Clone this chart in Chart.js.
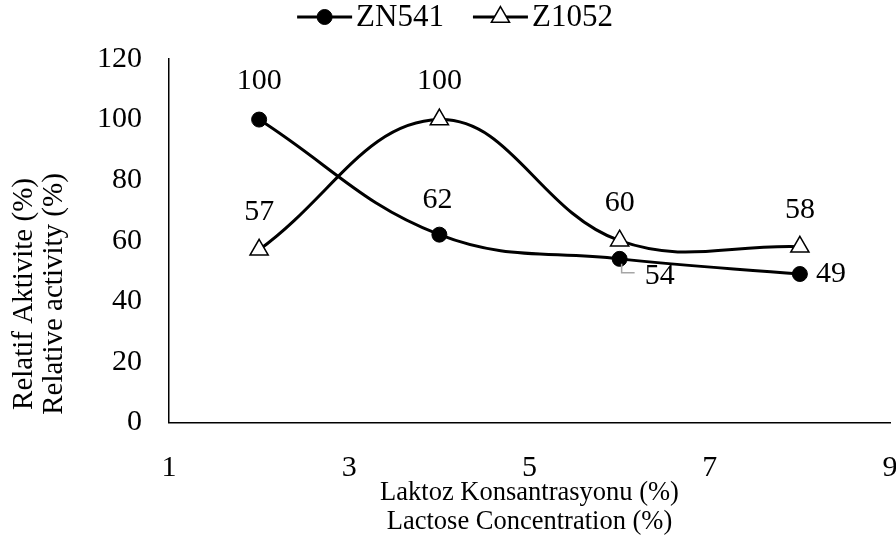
<!DOCTYPE html>
<html>
<head>
<meta charset="utf-8">
<script src="https://cdn.jsdelivr.net/npm/chart.js@4/dist/chart.umd.min.js"></script>
<style>
  html, body { margin: 0; padding: 0; background: #fff; overflow: hidden; }
  #wrap { width: 896px; height: 538px; position: relative; }
</style>
</head>
<body>
<div id="wrap"><canvas id="c" width="896" height="538"></canvas></div>
<script>
// Lactose concentration (%) and relative enzyme activity (%) for two strains
const concentrations = [2, 4, 6, 8];
const zn541 = [100, 62, 54, 49];
const z1052 = [57, 100, 60, 58];
const seriesNames = ['ZN541', 'Z1052'];
const xTickValues = [1, 3, 5, 7, 9];
const yTickValues = [0, 20, 40, 60, 80, 100, 120];
const xTitle = ['Laktoz Konsantrasyonu (%)', 'Lactose Concentration (%)'];
const yTitle = ['Relatif Aktivite (%)', 'Relative activity (%)'];

const SERIF = "'Liberation Serif', 'Times New Roman', serif";
Chart.defaults.font.family = SERIF;
Chart.defaults.color = '#000';

// Where each value label sits relative to its marker
const labelPlacement = [
  [{dx: 0, dy: -38}, {dx: -2, dy: -35}, {dx: 40, dy: 17, leader: true}, {dx: 31, dy: 0}],
  [{dx: 0, dy: -38}, {dx: 0, dy: -38}, {dx: 0, dy: -38}, {dx: 0, dy: -37}]
];

const toPoints = ys => concentrations.map((x, i) => ({x: x, y: ys[i]}));

const valueLabels = {
  id: 'valueLabels',
  afterDatasetsDraw(chart) {
    const ctx = chart.ctx;
    ctx.save();
    ctx.font = '30px ' + SERIF;
    ctx.fillStyle = '#000';
    ctx.textAlign = 'center';
    ctx.textBaseline = 'middle';
    chart.data.datasets.forEach((ds, di) => {
      const meta = chart.getDatasetMeta(di);
      meta.data.forEach((pt, i) => {
        const p = labelPlacement[di][i];
        if (p.leader) {
          ctx.save();
          ctx.strokeStyle = '#a6a6a6';
          ctx.lineWidth = 1.5;
          ctx.beginPath();
          ctx.moveTo(pt.x + 2, pt.y + 5);
          ctx.lineTo(pt.x + 2, pt.y + 14);
          ctx.lineTo(pt.x + 15, pt.y + 14);
          ctx.stroke();
          ctx.restore();
        }
        ctx.fillText(String(ds.data[i].y), pt.x + p.dx, pt.y + p.dy);
      });
    });
    ctx.restore();
  }
};

// Legend: short line with the series marker, followed by the name
const lineLegend = {
  id: 'lineLegend',
  afterDraw(chart) {
    const ctx = chart.ctx;
    const seg = 55, gapText = 4, gapItem = 29, cy = 17;
    ctx.save();
    ctx.font = '31px ' + SERIF;
    ctx.textBaseline = 'middle';
    ctx.textAlign = 'left';
    const widths = chart.data.datasets.map(ds => seg + gapText + ctx.measureText(ds.label).width);
    const total = widths.reduce((a, b) => a + b, 0) + gapItem * (widths.length - 1);
    let x = (chart.width - total) / 2 + 7;
    chart.data.datasets.forEach((ds, i) => {
      ctx.strokeStyle = ds.borderColor;
      ctx.lineWidth = ds.borderWidth;
      ctx.beginPath();
      ctx.moveTo(x, cy);
      ctx.lineTo(x + seg, cy);
      ctx.stroke();
      ctx.fillStyle = ds.pointBackgroundColor;
      ctx.strokeStyle = ds.pointBorderColor;
      ctx.lineWidth = ds.pointBorderWidth;
      Chart.helpers.drawPoint(ctx, {pointStyle: ds.pointStyle, radius: ds.pointRadius, rotation: 0, borderWidth: ds.pointBorderWidth}, x + seg / 2, cy);
      ctx.fillStyle = '#000';
      ctx.fillText(ds.label, x + seg + gapText, cy + 1);
      x += widths[i] + gapItem;
    });
    ctx.restore();
  }
};

// Rotated two-line title for the value axis
const yAxisTitle = {
  id: 'yAxisTitle',
  afterDraw(chart) {
    const ctx = chart.ctx;
    ctx.save();
    ctx.font = '29px ' + SERIF;
    ctx.fillStyle = '#000';
    ctx.textAlign = 'center';
    ctx.textBaseline = 'middle';
    const cy = 294;
    yTitle.forEach((t, i) => {
      ctx.save();
      ctx.translate(24 + i * 30, cy);
      ctx.rotate(-Math.PI / 2);
      ctx.fillText(t, 0, 0);
      ctx.restore();
    });
    ctx.restore();
  }
};

new Chart(document.getElementById('c'), {
  type: 'line',
  data: {
    datasets: [
      {
        label: seriesNames[0],
        data: toPoints(zn541),
        borderColor: '#000',
        borderWidth: 3,
        tension: 0.4,
        fill: false,
        pointStyle: 'circle',
        pointRadius: 7.5,
        pointBackgroundColor: '#000',
        pointBorderColor: '#000',
        pointBorderWidth: 1
      },
      {
        label: seriesNames[1],
        data: toPoints(z1052),
        borderColor: '#000',
        borderWidth: 3,
        tension: 0.4,
        fill: false,
        pointStyle: 'triangle',
        pointRadius: 10.5,
        pointBackgroundColor: '#fff',
        pointBorderColor: '#000',
        pointBorderWidth: 1.5
      }
    ]
  },
  options: {
    responsive: false,
    animation: false,
    layout: { autoPadding: false, padding: { top: 59, left: 70, right: 0, bottom: 0 } },
    plugins: {
      legend: { display: false },
      tooltip: { enabled: false }
    },
    scales: {
      x: {
        type: 'linear',
        min: xTickValues[0],
        max: xTickValues[xTickValues.length - 1],
        afterBuildTicks: s => { s.ticks = xTickValues.map(v => ({value: v})); },
        // let the last tick label run up to the canvas edge
        afterFit: s => { s.paddingRight = 6; },
        grid: { display: false, drawTicks: false },
        border: { display: true, color: '#000', width: 1.5 },
        ticks: { font: { size: 30, lineHeight: 3.03 }, padding: 0, color: '#000' },
        title: {
          display: true,
          text: xTitle,
          font: { size: 26.5, lineHeight: 1.1 },
          padding: { top: -35, bottom: 1.4 },
          color: '#000'
        }
      },
      y: {
        type: 'linear',
        min: yTickValues[0],
        max: yTickValues[yTickValues.length - 1],
        afterBuildTicks: s => { s.ticks = yTickValues.map(v => ({value: v})); },
        grid: { display: false, drawTicks: false },
        border: { display: true, color: '#000', width: 1.5 },
        ticks: { font: { size: 30 }, padding: 27, color: '#000' }
      }
    }
  },
  plugins: [valueLabels, lineLegend, yAxisTitle]
});
</script>
</body>
</html>
